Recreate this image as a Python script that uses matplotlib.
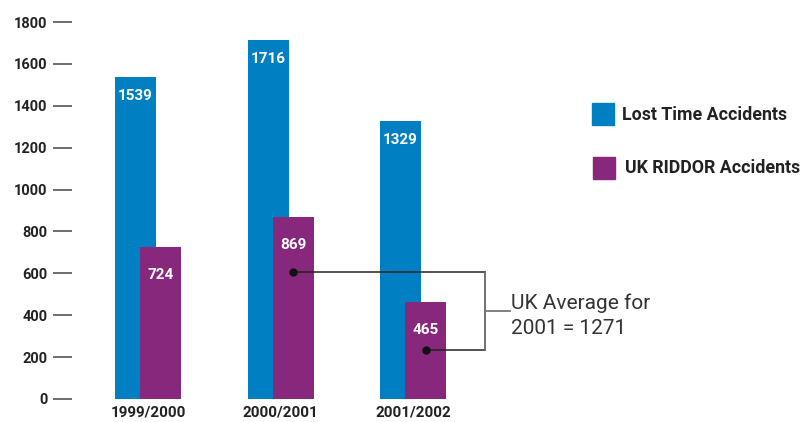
import matplotlib
matplotlib.use("Agg")
import matplotlib.pyplot as plt
from matplotlib.patches import Rectangle
import numpy as np

periods = ["1999/2000", "2000/2001", "2001/2002"]
lost_time = [1539, 1716, 1329]
riddor = [724, 869, 465]
yticks = [0, 200, 400, 600, 800, 1000, 1200, 1400, 1600, 1800]
series_names = ["Lost Time Accidents", "UK RIDDOR Accidents"]
note_lines = ["UK Average for", "2001 = 1271"]

BLUE = "#0080C3"
PURPLE = "#88287C"
DARK = "#222222"

W, H = 807, 422
fig = plt.figure(figsize=(W / 100, H / 100), dpi=100)

# axes placed in pixel terms: y=0 at 399px from top, y=1800 at 22px
ax_left, ax_bottom, ax_top = 72, H - 399, H - 22
ax = fig.add_axes([ax_left / W, ax_bottom / H, 1 - ax_left / W, (ax_top - ax_bottom) / H])

px_per_unit = 132.5
x0_px = 148
ax.set_xlim(-(x0_px - ax_left) / px_per_unit, (W - x0_px) / px_per_unit)
ax.set_ylim(0, 1800)

x = np.arange(len(periods))
bw = 41 / px_per_unit
off = 12.5 / px_per_unit

ax.bar(x - off, lost_time, bw, color=BLUE, zorder=2)
ax.bar(x + off, riddor, bw, color=PURPLE, zorder=3)

lab_font = dict(family="Roboto", weight="bold", color="white", fontsize=11)
for xi, v in zip(x - off, lost_time):
    ax.annotate(str(v), (xi, v), xytext=(0, -19), textcoords="offset pixels",
                ha="center", va="center", zorder=4, **lab_font)
for xi, v in zip(x + off, riddor):
    ax.annotate(str(v), (xi, v), xytext=(0, -28), textcoords="offset pixels",
                ha="center", va="center", zorder=4, **lab_font)

for s in ax.spines.values():
    s.set_visible(False)
ax.set_yticks(yticks)
ax.set_yticklabels([str(t) for t in yticks], family="Roboto", weight="bold",
                   fontsize=10.5, color=DARK)
ax.tick_params(axis="y", direction="out", length=19 * 0.72, width=1.2,
               color="#555555", pad=4)
ax.set_xticks(x)
ax.set_xticklabels(periods, family="Roboto", weight="bold", fontsize=11, color=DARK)
ax.tick_params(axis="x", length=0, pad=5)

# bracket connecting the RIDDOR bars to the UK average note
def to_data(py):
    return (399 - py) / 377 * 1800

def xpx(px):
    return (px - x0_px) / px_per_unit

y_a, y_b, y_m = to_data(272), to_data(350), to_data(311)
xa = x[1] + off
xb = x[2] + off
xr = xpx(485)
ax.plot([xa, xr], [y_a, y_a], color="#222222", lw=1.1, zorder=5, clip_on=False)
ax.plot([xb, xr], [y_b, y_b], color="#222222", lw=1.1, zorder=5, clip_on=False)
ax.plot([xr, xr], [y_a, y_b], color="#666666", lw=1.3, zorder=5, clip_on=False)
ax.plot([xr, xpx(510)], [y_m, y_m], color="#777777", lw=1.3, zorder=5, clip_on=False)
ax.plot([xa, xb], [y_a, y_b], ls="none", marker="o", ms=5, color="#111111", zorder=6)

ax.text(xpx(511), to_data(303), note_lines[0], family="Roboto", fontsize=15,
        color="#333333", ha="left", va="center")
ax.text(xpx(511), to_data(329), note_lines[1], family="Roboto", fontsize=15,
        color="#333333", ha="left", va="center")

# legend drawn as squares and labels in figure pixels
for (sq_x, sq_y, tx, ty), name, col in zip(
        [(592, 103, 622, 115), (593, 157, 625, 168)], series_names, [BLUE, PURPLE]):
    fig.patches.append(Rectangle((sq_x / W, 1 - (sq_y + 22) / H), 22 / W, 22 / H,
                                 transform=fig.transFigure, color=col))
    fig.text(tx / W, 1 - ty / H, name, family="Roboto", weight="bold", fontsize=12.8,
             color=DARK, ha="left", va="center")

fig.savefig("out.png", dpi=100)
